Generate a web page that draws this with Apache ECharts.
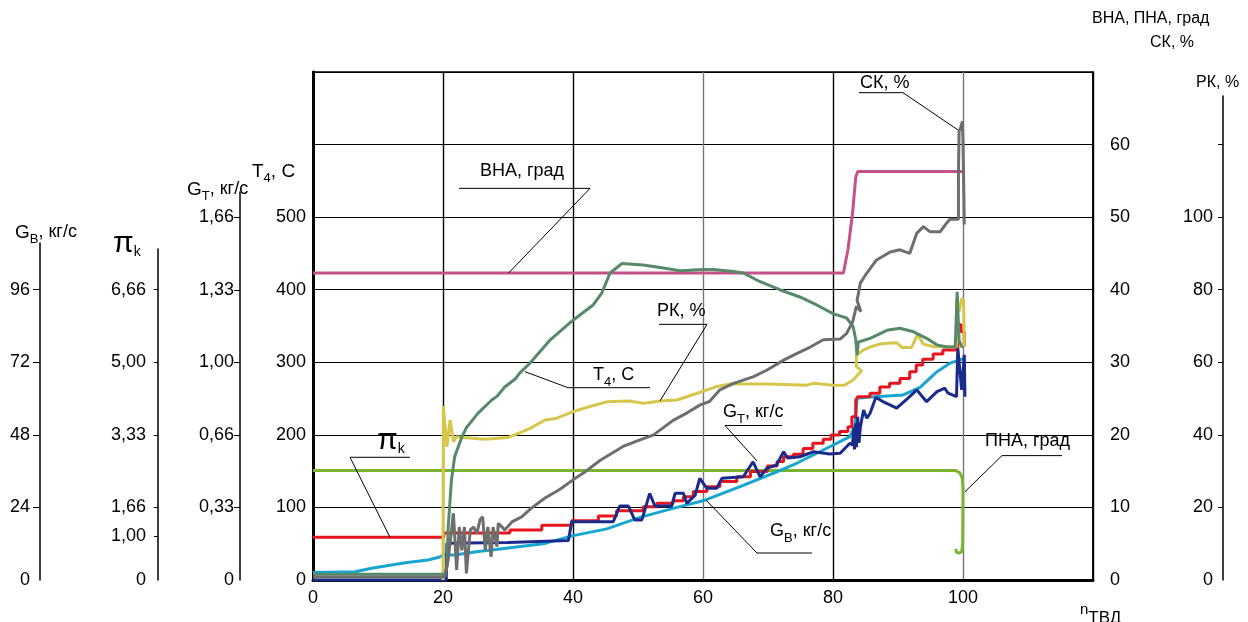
<!DOCTYPE html>
<html><head><meta charset="utf-8">
<script src="https://cdn.jsdelivr.net/npm/echarts@6/dist/echarts.min.js"></script>
<style>html,body{margin:0;padding:0;background:#fff}#c{width:1248px;height:622px}</style>
</head><body><div id="c"></div>
<script>
const FONT = '"Liberation Sans", Arial, sans-serif';

// ---------- tick labels ----------
const ticksX = [0, 20, 40, 60, 80, 100];
const ticksT4 = [0, 100, 200, 300, 400, 500];
const ticksVNA = [0, 10, 20, 30, 40, 50, 60];
const ticksGB = [0, 24, 48, 72, 96];
const ticksPiVal = [0, 1.0, 1.667, 3.333, 5.0, 6.667];
const ticksPiLab = ['0', '1,00', '1,66', '3,33', '5,00', '6,66'];
const ticksGTVal = [0, 0.333, 0.667, 1.0, 1.333, 1.667];
const ticksGTLab = ['0', '0,33', '0,66', '1,00', '1,33', '1,66'];
const ticksRK = [0, 20, 40, 60, 80, 100];
const ticksRKMarks = [20, 40, 60, 80, 100, 120];

// ---------- series data: [n_ТВД, value] ----------
const dataVNA = [[0,42.3],[81.6,42.3],[82.3,45.5],[83.0,50.5],[83.5,55.5],[83.8,56.3],[100.3,56.3]];
const dataPNA = [[0,15.1],[98.8,15.1],[99.5,14.8],[99.9,14.0],[100.0,12.5],[99.95,5.0],[99.8,3.9],[99.4,3.7],[99.0,3.8],[98.9,4.3]];
const dataSK = [[0,0.4],[19.9,0.4],[20.3,0.5],[20.8,2.8],[21.6,9.2],[22.1,1.4],[22.5,7.3],[22.9,4.1],[23.3,7.3],[23.6,0.9],[24.2,6.9],[24.7,7.3],[25.2,6.4],[25.7,8.3],[26.1,8.7],[26.5,4.1],[26.9,7.3],[27.4,3.2],[27.7,7.3],[28.3,4.6],[28.5,7.8],[29.5,6.9],[30.6,8.0],[32.1,8.7],[33.6,9.9],[35.7,11.3],[38.0,12.5],[40.0,13.8],[42.0,15.0],[44.2,16.5],[47.7,18.4],[50.0,19.2],[52.4,20.0],[55.4,22.0],[57.5,23.0],[59.5,24.1],[61.0,24.6],[62.6,26.2],[64.7,27.1],[67.7,28.0],[69.8,28.9],[72.4,30.3],[74.4,31.2],[76.5,32.1],[78.5,33.1],[81.1,33.2],[82.1,34.0],[83.0,35.5],[83.6,37.7],[84.3,37.0],[83.7,38.5],[84.2,40.9],[85.2,42.3],[86.7,44.1],[88.8,45.2],[90.3,45.5],[91.8,45.0],[92.9,47.8],[93.9,48.7],[94.9,48.0],[96.5,48.0],[97.5,49.2],[98.0,49.7],[99.3,49.7],[99.3,56.0],[99.4,61.8],[99.7,62.5],[99.9,63.2],[100.0,60.5],[100.1,55.0],[100.2,49.0]];
const dataT4 = [[0,8],[19.9,8],[20.3,8],[20.6,18],[20.8,73],[21.3,138],[21.8,170],[22.9,197],[23.6,210],[25.4,230],[27.5,248],[28.3,253],[29.5,266],[31.1,277],[31.8,285],[33.4,299],[36.5,331],[40.0,358],[43.1,379],[44.4,395],[45.7,423],[47.5,436],[50.8,434],[53.9,430],[56.5,426],[60.0,428],[61.6,428],[64.7,425],[66.2,423],[68.8,411],[71.8,400],[74.9,390],[77.5,379],[80.0,367],[82.1,361],[83.1,349],[83.5,331],[83.7,310],[83.9,328],[84.2,326],[85.7,333],[86.2,335],[88.3,344],[90.3,347],[92.4,342],[94.4,333],[96.0,324],[97.5,321],[98.8,321],[99.1,397],[99.4,330],[99.8,321],[100.0,322]];
const dataRK = [[20.0,0],[20.05,48.0],[20.6,36.7],[21.1,44.1],[21.6,38.1],[22.1,39.5],[22.9,39.3],[26.5,38.8],[30.0,39.3],[31.6,40.4],[33.4,41.8],[35.7,44.1],[37.5,44.6],[40.0,46.4],[42.6,47.8],[45.2,49.1],[48.8,49.3],[50.8,48.7],[53.9,49.4],[56.0,49.6],[59.0,51.4],[62.1,53.3],[64.2,54.0],[70.0,54.0],[76.0,53.7],[77.0,54.2],[80.0,53.7],[81.8,53.7],[83.1,55.1],[84.4,57.7],[83.6,58.8],[83.6,62.0],[84.7,63.4],[86.2,64.5],[87.7,65.2],[89.8,65.4],[90.6,64.1],[92.1,64.1],[93.0,67.7],[93.9,65.0],[95.5,64.3],[99.0,64.3],[99.0,77.2],[99.4,74.0],[99.8,77.6],[100.1,77.0],[100.2,64.3]];
const dataPi = [[0,0.98],[20.1,1.08],[30.3,1.15],[35.2,1.26],[39.8,1.36],[43.9,1.47],[46.7,1.59],[50.8,1.68],[52.9,1.76],[55.4,1.82],[57.0,1.91],[58.5,2.03],[60.6,2.14],[62.6,2.26],[65.2,2.37],[67.3,2.49],[69.9,2.62],[71.4,2.72],[72.4,2.83],[73.9,2.89],[75.4,3.02],[76.9,3.14],[78.5,3.23],[79.7,3.33],[81.0,3.41],[82.3,3.52],[82.9,3.75],[83.5,4.13],[83.8,4.21],[85.7,4.29],[87.2,4.43],[88.7,4.52],[90.3,4.63],[91.8,4.78],[92.8,4.94],[93.8,5.07],[95.4,5.19],[96.9,5.28],[98.7,5.32],[99.2,5.86],[99.7,5.70],[100.2,5.36]];
const dataGB = [[0,2.5],[6.5,2.7],[9.0,3.9],[14.2,5.7],[17.7,6.6],[19.5,7.6],[20.0,8.3],[21.8,8.3],[25.4,9.4],[27.5,9.9],[31.6,11.0],[35.7,12.1],[39.7,14.5],[45.2,16.9],[50.3,20.7],[55.4,23.7],[60.0,26.2],[65.7,30.9],[70.8,35.3],[74.4,38.6],[78.5,43.0],[82.6,47.4],[83.4,51.3],[83.7,60.1],[85.2,60.4],[90.8,61.2],[93.4,63.7],[96.0,68.9],[98.0,71.7],[99.5,72.8],[100.3,73.3]];
const dataGT = [[0,0],[20.5,0],[20.6,0.169],[30.0,0.172],[39.3,0.182],[39.8,0.268],[46.2,0.268],[47.2,0.34],[48.5,0.34],[49.5,0.276],[50.6,0.276],[51.8,0.398],[52.6,0.34],[55.2,0.34],[55.7,0.398],[57.0,0.398],[57.5,0.352],[58.8,0.39],[59.5,0.467],[60.6,0.421],[62.1,0.421],[62.9,0.467],[66.2,0.474],[67.7,0.543],[68.8,0.474],[69.8,0.513],[71.3,0.528],[72.4,0.589],[73.0,0.56],[74.9,0.566],[77.0,0.589],[79.5,0.579],[81.1,0.582],[82.6,0.628],[83.0,0.62],[83.2,0.70],[83.3,0.60],[83.5,0.72],[83.6,0.61],[83.8,0.75],[84.0,0.63],[84.2,0.70],[84.7,0.781],[85.2,0.743],[85.7,0.766],[86.6,0.839],[87.7,0.819],[89.8,0.789],[91.8,0.842],[92.9,0.873],[94.4,0.819],[96.0,0.865],[97.2,0.881],[97.7,0.858],[99.0,0.842],[99.2,1.064],[99.8,0.873],[100.2,1.034],[100.3,0.842]];

// ---------- scales (units per 100 °C of the T4 scale) ----------
const T4_MAX = 700;
const PER100 = { vna: 10, gt: 1/3, pi: 5/3, gb: 24, rk: 20 };

// ---------- layout ----------
const G = { left: 313, top: 72, width: 780, height: 508 };
const pxPer100 = G.height / (T4_MAX / 100);
const side = {
  gb: { left: 40, top: 243 },
  pi: { left: 158, top: 249 },
  gt: { left: 240, top: 192 },
  rk: { left: 1223, top: 96 }
};
const bottomY = G.top + G.height;
function sideMax(key) { return (bottomY - side[key].top) / pxPer100 * PER100[key]; }
function nearest(vals, labs) {
  return v => { let b = 0; for (let i = 1; i < vals.length; i++) if (Math.abs(vals[i]-v) < Math.abs(vals[b]-v)) b = i; return labs[b]; };
}

const LBL = { color: '#000', fontSize: 18, fontFamily: FONT };

function sideGrid(key) {
  return { left: side[key].left, top: side[key].top, width: 1, height: bottomY - side[key].top, outerBoundsMode: 'none' };
}
function sideY(gi, key, tickVals, labVals, fmt, margin, tickLen) {
  return {
    type: 'value', gridIndex: gi, position: 'left', min: 0, max: sideMax(key),
    axisLine: { show: true, onZero: false, lineStyle: { color: '#000', width: 1.5 } },
    axisTick: { show: true, length: tickLen, customValues: tickVals, lineStyle: { color: '#000', width: 1 } },
    axisLabel: Object.assign({ customValues: labVals, margin: margin, formatter: fmt }, LBL),
    splitLine: { show: false }
  };
}

const C = { vna: '#C8508A', pna: '#7AB42C', sk: '#6E6E6E', t4: '#578A68', rk: '#D6C74C', pi: '#E8141E', gb: '#17A6D0', gt: '#1B2B8C' };
function line(name, data, yi, color, extra) {
  return Object.assign({ type: 'line', name, data, xAxisIndex: 0, yAxisIndex: yi, symbol: 'none', showSymbol: false,
    lineStyle: { color, width: 3 }, itemStyle: { color }, silent: true, animation: false, clip: false }, extra || {});
}

const option = {
  backgroundColor: '#fff',
  animation: false,
  grid: [
    Object.assign({ show: true, borderColor: '#000', borderWidth: 1.5, backgroundColor: 'transparent', outerBoundsMode: 'none' }, G),
    sideGrid('gb'), sideGrid('pi'), sideGrid('gt'), sideGrid('rk')
  ],
  xAxis: [
    { type: 'value', gridIndex: 0, min: 0, max: 120, interval: 20,
      axisLine: { show: true, onZero: false, lineStyle: { color: '#000', width: 3 } },
      axisTick: { show: false },
      axisLabel: Object.assign({ customValues: ticksX, margin: 9 }, LBL),
      splitLine: { show: true, lineStyle: { color: ['#000', '#000', '#000', '#777', '#000', '#777', '#000'], width: 1.4 } } },
    { type: 'value', gridIndex: 1, show: false, min: 0, max: 1 },
    { type: 'value', gridIndex: 2, show: false, min: 0, max: 1 },
    { type: 'value', gridIndex: 3, show: false, min: 0, max: 1 },
    { type: 'value', gridIndex: 4, show: false, min: 0, max: 1 }
  ],
  yAxis: [
    { type: 'value', gridIndex: 0, position: 'left', min: 0, max: T4_MAX, interval: 100,
      axisLine: { show: true, onZero: false, lineStyle: { color: '#000', width: 3 } },
      axisTick: { show: false },
      axisLabel: Object.assign({ customValues: ticksT4, margin: 7 }, LBL),
      splitLine: { show: true, lineStyle: { color: '#000', width: 1 } } },
    { type: 'value', gridIndex: 0, position: 'right', min: 0, max: T4_MAX / 100 * PER100.vna, interval: 10,
      axisLine: { show: true, onZero: false, lineStyle: { color: '#000', width: 1.5 } },
      axisTick: { show: true, inside: true, length: 12, lineStyle: { color: '#000' } },
      axisLabel: Object.assign({ customValues: ticksVNA, margin: 17 }, LBL),
      splitLine: { show: false } },
    { type: 'value', gridIndex: 0, show: false, min: 0, max: T4_MAX / 100 * PER100.gt },
    { type: 'value', gridIndex: 0, show: false, min: 0, max: T4_MAX / 100 * PER100.pi },
    { type: 'value', gridIndex: 0, show: false, min: 0, max: T4_MAX / 100 * PER100.gb },
    { type: 'value', gridIndex: 0, show: false, min: 0, max: T4_MAX / 100 * PER100.rk },
    sideY(1, 'gb', ticksGB.slice(1), ticksGB, v => String(Math.round(v)), 10, 7),
    sideY(2, 'pi', ticksPiVal.slice(1), ticksPiVal, nearest(ticksPiVal, ticksPiLab), 12, 4),
    sideY(3, 'gt', ticksGTVal.slice(1), ticksGTVal, nearest(ticksGTVal, ticksGTLab), 6, 6),
    sideY(4, 'rk', ticksRKMarks, ticksRK, v => String(Math.round(v)), 10, 5)
  ],
  series: [
    line('ВНА, град', dataVNA, 1, C.vna),
    line('ПНА, град', dataPNA, 1, C.pna),
    line('GB', dataGB, 4, C.gb),
    line('πk', dataPi, 3, C.pi, { step: 'end' }),
    line('GT', dataGT, 2, C.gt),
    line('РК, %', dataRK, 5, C.rk),
    line('T4', dataT4, 0, C.t4),
    line('СК, %', dataSK, 1, C.sk)
  ]
};

const chart = echarts.init(document.getElementById('c'), null, { renderer: 'canvas' });
chart.setOption(option);

// ---------- text ----------
const RICH = {
  m:  { fontSize: 18, lineHeight: 20, verticalAlign: 'top', fontFamily: FONT },
  s:  { fontSize: 13, lineHeight: 14, padding: [10, 0, 0, 0], verticalAlign: 'top', fontFamily: FONT },
  pi: { fontSize: 30, lineHeight: 30, verticalAlign: 'top', fontFamily: FONT },
  k:  { fontSize: 14, lineHeight: 14, padding: [16, 0, 0, 0], verticalAlign: 'top', fontFamily: FONT },
  g:  { fontSize: 19, lineHeight: 20, verticalAlign: 'top', fontFamily: FONT },
  t:  { fontSize: 18, lineHeight: 20, verticalAlign: 'top', fontFamily: FONT },
  r:  { fontSize: 16, lineHeight: 18, verticalAlign: 'top', fontFamily: FONT },
  n:  { fontSize: 15, lineHeight: 16, verticalAlign: 'top', fontFamily: FONT },
  tv: { fontSize: 17, lineHeight: 16, padding: [8, 0, 0, 0], verticalAlign: 'top', fontFamily: FONT }
};

// axis titles (pixel positions)
const titles = [
  { text: '{g|G}{s|B}{t|, кг/с}', x: 15, y: 233 },
  { text: '{pi|π}{k|k}', x: 113, y: 244 },
  { text: '{g|G}{s|T}{t|, кг/с}', x: 187, y: 190 },
  { text: '{g|T}{s|4}{g|, С}', x: 252, y: 172 },
  { text: '{r|ВНА, ПНА, град}', x: 1092, y: 20 },
  { text: '{r|СК, %}', x: 1150, y: 44 },
  { text: '{r|РК, %}', x: 1196, y: 84 },
  { text: '{n|n}{tv|ТВД}', x: 1080, y: 610 }
];

// callouts in data coordinates of the main grid (x = n_ТВД, y = T4 scale)
const callouts = [
  { text: '{m|ВНА, град}', at: [25.69, 562.2], path: [[22.46, 539.7], [42.62, 539.7], [30.05, 422.6]] },
  { text: '{m|РК, %}', at: [52.92, 369.3], path: [[53.23, 352.3], [60.62, 352.3], [53.38, 246.7]] },
  { text: '{m|T}{s|4}{m|, С}', at: [43.08, 281.1], path: [[51.85, 265.0], [39.23, 265.0], [32.62, 287.0]] },
  { text: '{pi|π}{k|k}', at: [9.85, 191.5], path: [[14.92, 169.1], [5.69, 169.1], [11.85, 58.8]] },
  { text: '{m|G}{s|T}{m|, кг/с}', at: [63.08, 230.1], path: [[72.15, 212.9], [63.38, 212.9], [68.31, 164.0]] },
  { text: '{m|G}{s|B}{m|, кг/с}', at: [70.31, 66.1], path: [[76.77, 37.2], [68.31, 37.2], [60.46, 110.2]] },
  { text: '{m|ПНА, град}', at: [103.38, 190.2], path: [[115.23, 171.4], [106.0, 171.4], [100.31, 121.7]] },
  { text: '{m|СК, %}', at: [84.15, 683.5], path: [[84.0, 671.5], [90.77, 671.5], [99.23, 620.1]] }
];

const finder = { xAxisIndex: 0, yAxisIndex: 0 };
const graphics = [];
titles.forEach(t => graphics.push({ type: 'text', x: t.x, y: t.y, silent: true, z: 30,
  style: { text: t.text, rich: RICH, fill: '#000', align: 'left', verticalAlign: 'middle' } }));
callouts.forEach(c => {
  const pts = c.path.map(p => chart.convertToPixel(finder, p));
  graphics.push({ type: 'polyline', shape: { points: pts }, silent: true, z: 30,
    style: { stroke: '#000', lineWidth: 1, fill: null } });
  const p = chart.convertToPixel(finder, c.at);
  graphics.push({ type: 'text', x: p[0], y: p[1], silent: true, z: 30,
    style: { text: c.text, rich: RICH, fill: '#000', align: 'left', verticalAlign: 'middle' } });
});
chart.setOption({ graphic: graphics });
</script>
</body></html>
